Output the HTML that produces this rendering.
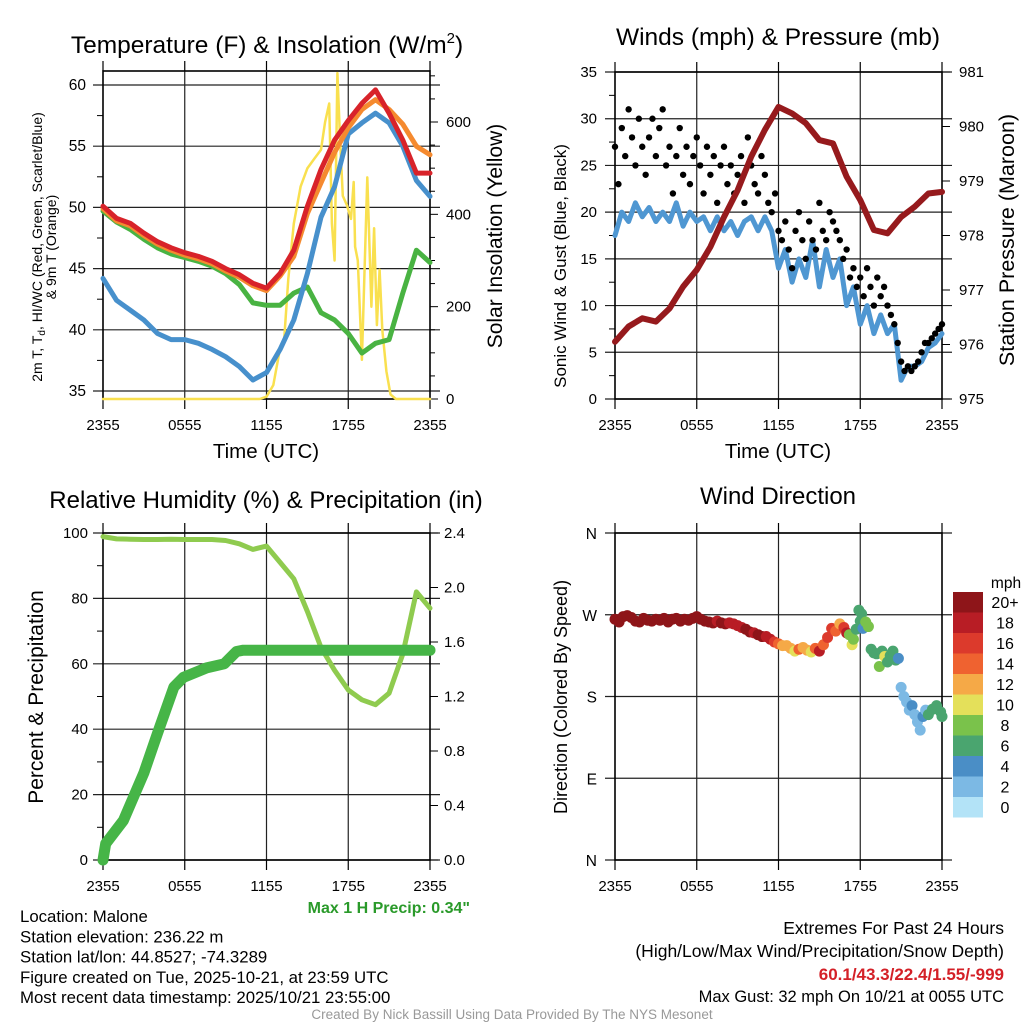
<!DOCTYPE html>
<html><head><meta charset="utf-8"><style>
html,body{margin:0;padding:0;background:#fff;}
svg{display:block;font-family:"Liberation Sans",Arial,sans-serif;}
</style></head><body>
<svg id="s" width="1024" height="1024" viewBox="0 0 1024 1024"></svg>
<script>
// ---------- DATA ----------
const hourCats=[0,1,2,3,4,5,6,7,8,9,10,11,12,13,14,15,16,17,18,19,20,21,22,23,24];
const temp2m=[50.1,49.1,48.7,47.9,47.2,46.7,46.3,46.0,45.6,45.0,44.5,43.8,43.4,44.6,46.5,50.1,53.1,55.5,57.1,58.5,59.6,57.7,55.5,52.8,52.8];
const temp9m=[49.9,48.9,48.5,47.7,47.0,46.5,46.1,45.8,45.4,44.8,44.3,43.6,43.2,44.4,46.0,49.5,52.0,54.5,56.5,58.0,58.8,58.0,56.8,55.0,54.3];
const hiwc=[49.7,48.8,48.2,47.4,46.7,46.2,45.9,45.6,45.2,44.6,43.7,42.2,42.0,42.0,43.0,43.5,41.4,40.8,39.7,38.1,38.9,39.2,43.0,46.5,45.5];
const dewpt=[44.2,42.4,41.6,40.8,39.7,39.2,39.2,38.9,38.4,37.8,37.0,35.9,36.5,38.4,40.8,44.6,49.2,51.7,56.0,56.9,57.7,56.9,55.0,52.2,50.9];
const solarHours=[0,11.5,12.0,12.5,13.0,13.3,13.6,14.0,14.5,15.0,15.5,16.0,16.3,16.6,16.8,17.0,17.2,17.4,17.6,17.9,18.2,18.4,18.5,18.7,19.0,19.4,19.7,19.9,20.1,20.3,20.5,20.8,21.1,21.5,24];
const solarVals=[0,0,5,30,110,130,260,380,460,500,520,540,600,640,380,300,706,560,440,420,390,470,330,300,85,480,200,370,160,280,150,60,10,0,0];
const pressure=[976.05,976.33,976.48,976.42,976.66,977.06,977.37,977.79,978.34,978.83,979.45,979.94,980.36,980.24,980.06,979.75,979.69,979.08,978.65,978.10,978.04,978.34,978.53,978.77,978.80];
const windVals=[17.5,20,19,21,19.5,20.5,19,20,19,21,18.5,20,19,19.5,18,19.5,18,19,17.5,19,19.5,18,19.5,18,14,16,12.5,15,13,17,12,16,13,15,10,12,8,10,7,9,7,8,2,3.5,3.5,4,5.5,6,7];
const gustVals=[27,23,29,26,31,28,25,30,27,24,28,30,26,29,31,25,27,22,26,29,24,27,23,26,28,25,22,27,24,26,21,25,27,23,25,22,24,26,21,28,25,23,22,26,24,21,20,22,18,17,19,16,14,18,20,17,15,19,17,16,21,18,17,20,19,18,17,15,16,13,14,12,13,11,14,12,10,13,11,12,10,9,8,6,4,3,3.5,3,3.5,4,5,6,6,6.5,7,7.5,8];
const rhVals=[98.9,98.2,98.1,98.0,98.0,98.1,98.0,98.0,98.0,97.7,96.7,95,96,91,86,76,65,58,52,49,47.5,51,63,82,77];
const precipHours=[0,0.2,1.5,3.0,4.0,5.2,5.9,7.6,8.9,9.8,10.3,24];
const precipVals=[0,0.12,0.29,0.64,0.93,1.27,1.34,1.41,1.44,1.53,1.54,1.54];
const dirHours=[0,0.3,0.6,0.9,1.2,1.5,1.8,2.1,2.4,2.7,3.0,3.3,3.6,3.9,4.2,4.5,4.8,5.1,5.4,5.7,6.0,6.3,6.6,6.9,7.2,7.5,7.8,8.1,8.4,8.7,9.0,9.3,9.6,9.9,10.2,10.5,10.8,11.1,11.4,11.7,12.0,12.3,12.6,12.9,13.2,13.5,13.8,14.1,14.4,14.7,15.0,15.3,15.6,15.9,16.2,16.5,16.8,17.0,17.2,17.4,17.5,17.7,17.9,18.0,18.1,18.2,18.4,18.6,18.8,19.0,19.2,19.4,19.6,19.8,20.0,20.2,20.4,20.6,20.8,21.0,21.2,21.4,21.6,21.8,22.0,22.2,22.4,22.6,22.8,23.0,23.3,23.6,23.9,24];
const dirVals=[265,262,268,269,267,263,262,266,264,263,265,264,266,262,265,266,263,265,264,266,268,265,263,262,261,263,261,260,261,260,258,256,254,251,250,248,246,246,243,240,238,236,236,233,230,232,234,231,229,233,230,237,245,255,252,260,256,250,248,237,243,254,275,263,271,255,262,257,232,228,227,213,230,224,218,225,230,220,222,190,180,174,165,170,160,152,143,158,165,160,166,170,163,158];
const dirSpeeds=[21,21,22,22,22,21,22,22,21,22,22,22,21,22,22,21,22,21,22,22,21,20,20,20,20,19,20,20,19,19,19,19,20,20,19,20,20,19,18,17,15,13,12,12,10,14,12,12,10,14,18,14,16,16,14,12,16,18,8,10,8,7,6,6,7,4,8,8,7,7,6,8,7,10,6,7,6,6,4,3,3,2,2,4,2,2,2,4,2,6,6,6,6,6];
const xTickLabels=["2355","0555","1155","1755","2355"];
const tempTicks=[35,40,45,50,55,60];
const solarTicks=[0,200,400,600];
const windTicks=[0,5,10,15,20,25,30,35];
const pressTicks=[975,976,977,978,979,980,981];
const pctTicks=[0,20,40,60,80,100];
const precipTicks=[0,0.4,0.8,1.2,1.6,2.0,2.4];
const dirTicks=[0,90,180,270,360];
const dirTickLabels=["N","E","S","W","N"];
const speedBins=["0","2","4","6","8","10","12","14","16","18","20+"];
const speedColors=["#b3e3f7","#7cb9e4","#4a8ec6","#4aa56f","#7ac24b","#e4e05a","#f5a947","#ef6230","#dc3a2c","#b81d25","#8e1519"];

// ---------- HELPERS ----------
const S=document.getElementById('s');const NS='http://www.w3.org/2000/svg';
function mk(tag,at,parent){const e=document.createElementNS(NS,tag);for(const k in at)e.setAttribute(k,at[k]);(parent||S).appendChild(e);return e;}
function lin(d0,d1,r0,r1){return v=>r0+(v-d0)*(r1-r0)/(d1-d0);}
function txt(x,y,s,size,anchor,name,extra){const t=mk('text',Object.assign({x:x,y:y,'font-size':size,'text-anchor':anchor||'middle',fill:'#000'},extra||{}));t.textContent=s;


return t;}
function path(pts,stroke,w,name){const d=pts.map((p,i)=>(i?'L':'M')+p[0].toFixed(1)+' '+p[1].toFixed(1)).join('');const e=mk('path',{d:d,fill:'none',stroke:stroke,'stroke-width':w,'stroke-linejoin':'round','stroke-linecap':'round'});


return e;}
function minor(x,ys,len){ys.forEach(y=>mk('line',{x1:x,x2:x+len,y1:y,y2:y,stroke:'#000','stroke-width':1}));}

function frame(x0,x1,y0,y1,name,hy){
  const g=mk('g',{});
  
  
  for(let i=1;i<4;i++){const x=x0+(x1-x0)*i/4;mk('line',{x1:x,x2:x,y1:y0,y2:y1,stroke:'#222','stroke-width':1.2},g);}
  hy.forEach(y=>mk('line',{x1:x0-10,x2:x1+10,y1:y,y2:y,stroke:'#222','stroke-width':1.2},g));
  for(let i=0;i<=4;i++){const x=x0+(x1-x0)*i/4;mk('line',{x1:x,x2:x,y1:y1,y2:y1+10,stroke:'#000','stroke-width':1.2},g);mk('line',{x1:x,x2:x,y1:y0,y2:y0-10,stroke:'#000','stroke-width':1.2},g);
    txt(x,y1+31,xTickLabels[i],15,'middle','x-tick-label');}
  mk('rect',{x:x0,y:y0,width:x1-x0,height:y1-y0,fill:'none',stroke:'#000','stroke-width':1.6},g);
  return g;
}

// ---------- PANEL 1 ----------
{const X0=103,X1=430,Y0=71,Y1=399;
const xs=lin(0,24,X0,X1), yt=lin(35,60,391,85), ys=lin(0,600,399,122);
frame(X0,X1,Y0,Y1,'temperature-plot-area',tempTicks.map(yt));
tempTicks.forEach(v=>txt(86,yt(v)+5,String(v),15.5,'end','temp-tick-label'));
minor(X0-6,tempTicks.map(v=>yt(v+2.5)).filter(y=>y>Y0),6);
solarTicks.forEach(v=>{mk('line',{x1:X1,x2:X1+8,y1:ys(v),y2:ys(v),stroke:'#000'});txt(446,ys(v)+5,String(v),15,'start','solar-tick-label');});
minor(X1,[50,100,150,250,300,350,450,500,550,650,700].map(ys),5);
path(solarHours.map((h,i)=>[xs(h),ys(solarVals[i])]),'#f9e04f',2.5,'solar-insolation-line');
path(hourCats.map((h,i)=>[xs(h),yt(hiwc[i])]),'#49b342',5,'hiwc-line');
path(hourCats.map((h,i)=>[xs(h),yt(dewpt[i])]),'#4790cc',5,'dewpoint-line');
path(hourCats.map((h,i)=>[xs(h),yt(temp9m[i])]),'#f58a2f',5,'temp-9m-line');
path(hourCats.map((h,i)=>[xs(h),yt(temp2m[i])]),'#d8232a',5,'temp-2m-line');
txt(267,53,'',24.5,'middle','chart-title-temperature').innerHTML='Temperature (F) &amp; Insolation (W/m<tspan font-size="15" dy="-10">2</tspan><tspan dy="10">)</tspan>';
txt(266,458,'Time (UTC)',20.5,'middle','x-axis-title-temperature');
txt(0,0,'',14,'middle','y-axis-title-temperature',{transform:'translate(42,247) rotate(-90)'}).innerHTML='2m T, T<tspan font-size="10" dy="3">d</tspan><tspan dy="-3">, HI/WC (Red, Green, Scarlet/Blue)</tspan>';
txt(0,0,'& 9m T (Orange)',14,'middle','y-axis-title-temperature-2',{transform:'translate(56,247) rotate(-90)'});
txt(0,0,'Solar Insolation (Yellow)',21,'middle','y-axis-title-solar',{transform:'translate(502,236) rotate(-90)'});
}

// ---------- PANEL 2 ----------
{const X0=615,X1=942,Y0=72,Y1=399;
const xs=lin(0,24,X0,X1), yw=lin(0,35,399,72), yp=lin(975,981,399,72);
frame(X0,X1,Y0,Y1,'winds-plot-area',windTicks.map(yw));
windTicks.forEach(v=>txt(597,yw(v)+5,String(v),15,'end','wind-tick-label'));
minor(X0-6,windTicks.slice(0,7).map(v=>yw(v+2.5)),6);
pressTicks.forEach(v=>{mk('line',{x1:X1,x2:X1+8,y1:yp(v),y2:yp(v),stroke:'#000'});txt(959,yp(v)+5,String(v),15,'start','pressure-tick-label');});
path(windVals.map((v,i)=>[xs(i*0.5),yw(v)]),'#4f97d2',5,'sonic-wind-line');
const g=mk('g',{});


gustVals.forEach((v,i)=>{const c=mk('circle',{cx:xs(i*0.25),cy:yw(v),r:3.2,fill:'#000'},g);

});
path(hourCats.map((h,i)=>[xs(h),yp(pressure[i])]),'#961a1d',6,'pressure-line');
txt(778,45,'Winds (mph) & Pressure (mb)',24.5,'middle','chart-title-winds');
txt(778,458,'Time (UTC)',20.5,'middle','x-axis-title-winds');
txt(0,0,'Sonic Wind & Gust (Blue, Black)',17,'middle','y-axis-title-wind',{transform:'translate(566,266) rotate(-90)'});
txt(0,0,'Station Pressure (Maroon)',21.5,'middle','y-axis-title-pressure',{transform:'translate(1014,240) rotate(-90)'});
}

// ---------- PANEL 3 ----------
{const X0=103,X1=430,Y0=533,Y1=860;
const xs=lin(0,24,X0,X1), yr=lin(0,100,860,533), yq=lin(0,2.4,860,533);
frame(X0,X1,Y0,Y1,'humidity-plot-area',pctTicks.map(yr));
pctTicks.forEach(v=>txt(88,yr(v)+5,String(v),15,'end','rh-tick-label'));
minor(X0-6,pctTicks.slice(0,5).map(v=>yr(v+10)),6);
precipTicks.forEach(v=>{mk('line',{x1:X1,x2:X1+8,y1:yq(v),y2:yq(v),stroke:'#000'});txt(444,yq(v)+5,v.toFixed(1),15,'start','precip-tick-label');});
path(hourCats.map((h,i)=>[xs(h),yr(rhVals[i])]),'#8fcb4f',5,'rh-line');
path(precipHours.map((h,i)=>[xs(h),yq(precipVals[i])]),'#46b547',11,'precip-line');
txt(266,508,'Relative Humidity (%) & Precipitation (in)',24,'middle','chart-title-humidity');
txt(0,0,'Percent & Precipitation',21,'middle','y-axis-title-rh',{transform:'translate(43,697) rotate(-90)'});
txt(470,913,'Max 1 H Precip: 0.34"',16,'end','max-precip-label',{fill:'#2a9a2a','font-weight':'bold'});
}

// ---------- PANEL 4 ----------
{const X0=615,X1=942,Y0=533,Y1=860;
const xs=lin(0,24,X0,X1), yd=lin(0,360,860,533);
frame(X0,X1,Y0,Y1,'wind-direction-plot-area',dirTicks.map(yd));
dirTicks.forEach((v,i)=>txt(597,yd(v)+6,dirTickLabels[i],15.5,'end','direction-tick-label'));
const g=mk('g',{});


dirHours.forEach((h,i)=>{const b=Math.min(10,Math.floor(dirSpeeds[i]/2));const c=mk('circle',{cx:xs(h),cy:yd(dirVals[i]),r:5.5,fill:speedColors[b]},g);

});
txt(778,504,'Wind Direction',24,'middle','chart-title-direction');
txt(0,0,'Direction (Colored By Speed)',18,'middle','y-axis-title-direction',{transform:'translate(567,697) rotate(-90)'});
// colorbar
txt(1006,588,'mph',15.5,'middle','colorbar-title');
speedBins.forEach((lab,i)=>{const y=797-i*20.5;const r=mk('rect',{x:953,y:y,width:30,height:20.5,fill:speedColors[i]});


txt(1005,y+16,lab,16,'middle','colorbar-label');});
}

// ---------- FOOTER TEXT ----------
const leftLines=["Location: Malone","Station elevation: 236.22 m","Station lat/lon: 44.8527; -74.3289","Figure created on Tue, 2025-10-21, at 23:59 UTC","Most recent data timestamp: 2025/10/21 23:55:00"];
leftLines.forEach((s,i)=>txt(20,922+i*20.3,s,16.8,'start','station-info-line'));
txt(1004,934,'Extremes For Past 24 Hours',17.5,'end','extremes-title');
txt(1004,957,'(High/Low/Max Wind/Precipitation/Snow Depth)',17.5,'end','extremes-subtitle');
txt(1004,980,'60.1/43.3/22.4/1.55/-999',17,'end','extremes-values',{fill:'#d42027','font-weight':'bold'});
txt(1004,1002,'Max Gust: 32 mph On 10/21 at 0055 UTC',16.5,'end','max-gust-label');
txt(512,1019,'Created By Nick Bassill Using Data Provided By The NYS Mesonet',13.5,'middle','credit-line',{fill:'#999'});
</script>
</body></html>
